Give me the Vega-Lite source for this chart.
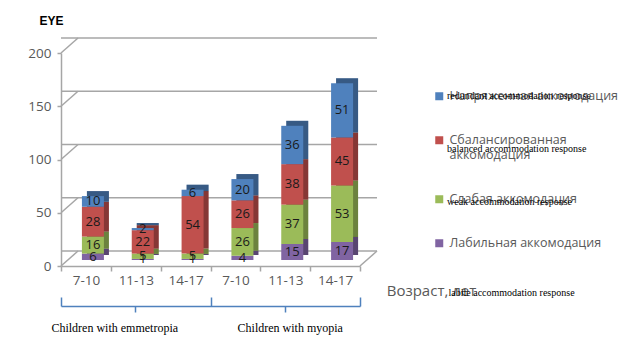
{
  "$schema": "https://vega.github.io/schema/vega-lite/v6.json",
  "width": 299,
  "height": 213,
  "autosize": {"type": "none"},
  "padding": {"left": 61, "top": 53, "right": 261, "bottom": 90},
  "background": "white",
  "config": {"view": {"stroke": null}, "font": "Open Sans"},
  "datasets": {
    "bars": [
      {"cat": "E 7-10", "s": "Лабильная аккомодация", "en": "labile accommodation response", "v": 6, "o": 1},
      {"cat": "E 7-10", "s": "Слабая аккомодация", "en": "weak accommodation response", "v": 16, "o": 2},
      {"cat": "E 7-10", "s": "Сбалансированная аккомодация", "en": "balanced accommodation response", "v": 28, "o": 3},
      {"cat": "E 7-10", "s": "Напряженная аккомодация", "en": "redundant accommodation response", "v": 10, "o": 4},
      {"cat": "E 11-13", "s": "Лабильная аккомодация", "en": "labile accommodation response", "v": 1, "o": 1},
      {"cat": "E 11-13", "s": "Слабая аккомодация", "en": "weak accommodation response", "v": 5, "o": 2},
      {"cat": "E 11-13", "s": "Сбалансированная аккомодация", "en": "balanced accommodation response", "v": 22, "o": 3},
      {"cat": "E 11-13", "s": "Напряженная аккомодация", "en": "redundant accommodation response", "v": 2, "o": 4},
      {"cat": "E 14-17", "s": "Лабильная аккомодация", "en": "labile accommodation response", "v": 1, "o": 1},
      {"cat": "E 14-17", "s": "Слабая аккомодация", "en": "weak accommodation response", "v": 5, "o": 2},
      {"cat": "E 14-17", "s": "Сбалансированная аккомодация", "en": "balanced accommodation response", "v": 54, "o": 3},
      {"cat": "E 14-17", "s": "Напряженная аккомодация", "en": "redundant accommodation response", "v": 6, "o": 4},
      {"cat": "M 7-10", "s": "Лабильная аккомодация", "en": "labile accommodation response", "v": 4, "o": 1},
      {"cat": "M 7-10", "s": "Слабая аккомодация", "en": "weak accommodation response", "v": 26, "o": 2},
      {"cat": "M 7-10", "s": "Сбалансированная аккомодация", "en": "balanced accommodation response", "v": 26, "o": 3},
      {"cat": "M 7-10", "s": "Напряженная аккомодация", "en": "redundant accommodation response", "v": 20, "o": 4},
      {"cat": "M 11-13", "s": "Лабильная аккомодация", "en": "labile accommodation response", "v": 15, "o": 1},
      {"cat": "M 11-13", "s": "Слабая аккомодация", "en": "weak accommodation response", "v": 37, "o": 2},
      {"cat": "M 11-13", "s": "Сбалансированная аккомодация", "en": "balanced accommodation response", "v": 38, "o": 3},
      {"cat": "M 11-13", "s": "Напряженная аккомодация", "en": "redundant accommodation response", "v": 36, "o": 4},
      {"cat": "M 14-17", "s": "Лабильная аккомодация", "en": "labile accommodation response", "v": 17, "o": 1},
      {"cat": "M 14-17", "s": "Слабая аккомодация", "en": "weak accommodation response", "v": 53, "o": 2},
      {"cat": "M 14-17", "s": "Сбалансированная аккомодация", "en": "balanced accommodation response", "v": 45, "o": 3},
      {"cat": "M 14-17", "s": "Напряженная аккомодация", "en": "redundant accommodation response", "v": 51, "o": 4}
    ],
    "grid": [{"v": 0}, {"v": 50}, {"v": 100}, {"v": 150}, {"v": 200}],
    "groups": [{"grp": "Children with emmetropia"}, {"grp": "Children with myopia"}]
  },
  "resolve": {"scale": {"x": "independent"}},
  "layer": [
    {
      "data": {"name": "bars"},
      "layer": [
        {
          "data": {"name": "grid"},
          "mark": {"type": "rule", "color": "#a6a6a6", "strokeWidth": 1.5, "xOffset": 17, "yOffset": -15},
          "encoding": {
            "y": {
              "field": "v", "type": "quantitative",
              "scale": {"domain": [0, 200], "nice": false, "zero": true},
              "axis": {
                "values": [0, 50, 100, 150, 200], "grid": false,
                "tickSize": 4, "tickColor": "#a6a6a6", "domainColor": "#a6a6a6", "domainWidth": 1.5, "tickWidth": 1.5,
                "labelFontSize": 13.5, "labelColor": "#595959", "labelPadding": 6, "labelFont": "Open Sans",
                "title": "EYE", "titleAngle": 0, "titleX": -10, "titleY": -33, "titleAlign": "center", "titleBaseline": "middle",
                "titleFontSize": 12, "titleFontWeight": "bold", "titleColor": "#000000", "titleFont": "Liberation Sans"
              }
            }
          }
        },
        {
          "data": {"name": "grid"},
          "mark": {"type": "point", "shape": "M0,0L1,-0.88", "size": 1156, "filled": false, "color": "#a6a6a6", "strokeWidth": 1.5, "opacity": 1},
          "encoding": {
            "x": {"datum": "E 7-10", "type": "nominal", "bandPosition": 0},
            "y": {"field": "v", "type": "quantitative"}
          }
        },
        {
          "data": {"values": [{}]},
          "mark": {"type": "point", "shape": "M0,0L1,-0.88", "size": 1156, "filled": false, "color": "#a6a6a6", "strokeWidth": 1.5, "opacity": 1},
          "encoding": {
            "x": {"datum": "M 14-17", "type": "nominal", "bandPosition": 1},
            "y": {"datum": 0, "type": "quantitative"}
          }
        },
        {
          "mark": {"type": "bar", "width": 22, "xOffset": 12, "yOffset": -11},
          "encoding": {
            "x": {
              "field": "cat", "type": "nominal",
              "scale": {"type": "band", "paddingInner": 0, "paddingOuter": 0, "domain": ["E 7-10", "E 11-13", "E 14-17", "M 7-10", "M 11-13", "M 14-17"]},
              "axis": {
                "labelExpr": "split(datum.label, ' ')[1]", "labelAngle": 0, "labelAlign": "center", "bandPosition": 0.5,
                "tickBand": "extent", "tickSize": 5,
                "tickColor": "#a6a6a6", "tickWidth": 1.5, "domainColor": "#a6a6a6", "domainWidth": 1.5,
                "labelFontSize": 13.5, "labelColor": "#595959", "labelPadding": 9, "labelFont": "Open Sans",
                "title": "Возраст, лет", "titleX": 370, "titleY": 24, "titleAlign": "center", "titleBaseline": "middle",
                "titleFontSize": 15, "titleFontWeight": "normal", "titleColor": "#595959", "titleFont": "Open Sans"
              }
            },
            "y": {"field": "v", "type": "quantitative", "stack": "zero"},
            "color": {
              "field": "s", "type": "nominal",
              "scale": {
                "domain": ["Напряженная аккомодация", "Сбалансированная аккомодация", "Слабая аккомодация", "Лабильная аккомодация"],
                "range": ["#4f81bd", "#c0504d", "#9bbb59", "#8064a2"]
              },
              "legend": {
                "orient": "none", "legendX": 372, "legendY": 37, "title": null, "padding": 0,
                "symbolType": "square", "symbolSize": 64, "symbolStrokeWidth": 0,
                "labelFontSize": 12.5, "labelFont": "Open Sans", "labelColor": "#595959", "labelOffset": 4, "labelLimit": 400,
                "rowPadding": 31,
                "labelExpr": "datum.label == 'Сбалансированная аккомодация' ? ['Сбалансированная', 'аккомодация'] : datum.label"
              }
            },
            "order": {"field": "o", "type": "quantitative"}
          }
        },
        {
          "mark": {"type": "bar", "width": 22, "xOffset": 12, "yOffset": -11, "color": "#000000", "opacity": 0.3},
          "encoding": {
            "x": {"field": "cat", "type": "nominal"},
            "y": {"field": "v", "type": "quantitative", "stack": "zero"},
            "detail": {"field": "s", "type": "nominal"},
            "order": {"field": "o", "type": "quantitative"}
          }
        },
        {
          "mark": {"type": "bar", "width": 22, "xOffset": 7, "yOffset": -6},
          "encoding": {
            "x": {"field": "cat", "type": "nominal"},
            "y": {"field": "v", "type": "quantitative", "stack": "zero"},
            "color": {"field": "s", "type": "nominal"},
            "order": {"field": "o", "type": "quantitative"}
          }
        },
        {
          "mark": {"type": "text", "xOffset": 7, "yOffset": -6, "fontSize": 13, "color": "#1a1a1a", "font": "Open Sans"},
          "encoding": {
            "x": {"field": "cat", "type": "nominal"},
            "y": {"field": "v", "type": "quantitative", "stack": "zero", "bandPosition": 0.5},
            "text": {"field": "v", "type": "quantitative"},
            "detail": {"field": "s", "type": "nominal"},
            "order": {"field": "o", "type": "quantitative"}
          }
        },
        {
          "transform": [{"filter": "datum.o > 1"}],
          "mark": {"type": "point", "opacity": 0},
          "encoding": {
            "shape": {
              "field": "en", "type": "nominal",
              "scale": {
                "domain": ["redundant accommodation response", "balanced accommodation response", "weak accommodation response"],
                "range": ["square", "square", "square"]
              },
              "legend": {
                "orient": "none", "legendX": 372, "legendY": 38, "title": null, "padding": 0,
                "symbolSize": 64, "symbolOpacity": 0, "symbolStrokeWidth": 0,
                "labelFontSize": 10, "labelFont": "Liberation Serif", "labelColor": "#000000", "labelOffset": 4, "labelLimit": 400,
                "rowPadding": 43
              }
            }
          }
        }
      ]
    },
    {
      "data": {"name": "groups"},
      "mark": {"type": "point", "opacity": 0},
      "encoding": {
        "x": {
          "field": "grp", "type": "nominal",
          "scale": {"type": "band", "paddingInner": 0, "paddingOuter": 0},
          "axis": {
            "orient": "bottom", "offset": 40, "title": null, "labels": false, "grid": false,
            "tickBand": "extent", "tickSize": -9, "tickColor": "#4f81bd", "tickWidth": 1.5,
            "domainColor": "#4f81bd", "domainWidth": 1.5
          }
        }
      }
    },
    {
      "data": {"name": "groups"},
      "mark": {"type": "point", "opacity": 0},
      "encoding": {
        "x": {
          "field": "grp", "type": "nominal",
          "scale": {"type": "band", "paddingInner": 0, "paddingOuter": 0},
          "axis": {
            "orient": "bottom", "offset": 40, "domain": false, "grid": false,
            "tickSize": 6, "tickColor": "#4f81bd", "tickWidth": 1.5,
            "labelFont": "Liberation Serif", "labelFontSize": 12, "labelColor": "#000000", "labelPadding": 10, "labelAngle": 0,
            "labelOffset": {"condition": {"test": "datum.value == 'Children with emmetropia'", "value": -21}, "value": 5},
            "title": "labile accommodation response", "titleX": 387, "titleY": -14, "titleAlign": "left", "titleBaseline": "middle",
            "titleFont": "Liberation Serif", "titleFontSize": 10, "titleFontWeight": "normal", "titleColor": "#000000"
          }
        }
      }
    }
  ]
}
